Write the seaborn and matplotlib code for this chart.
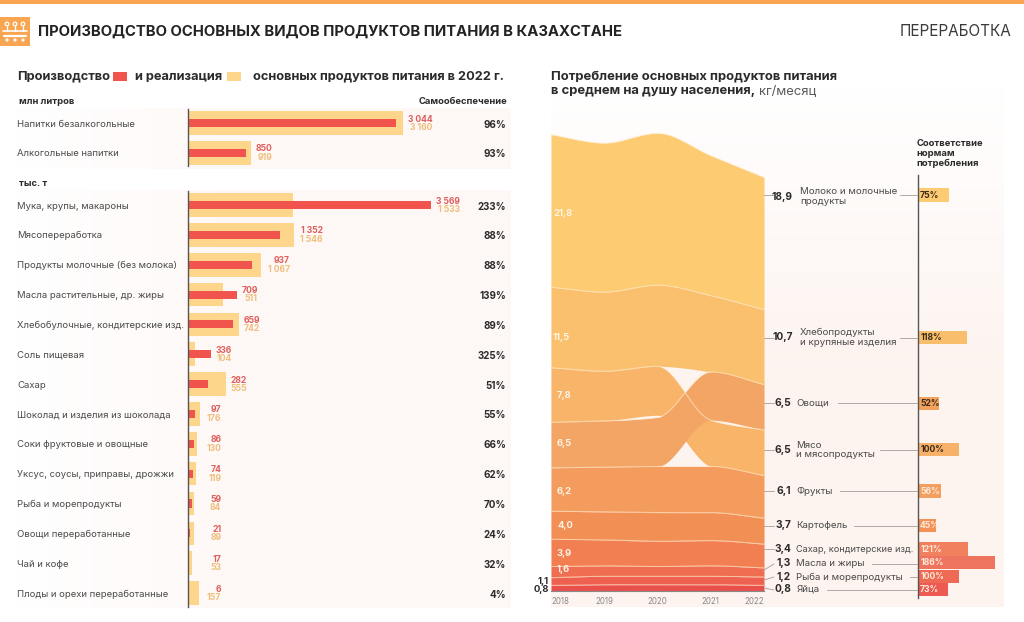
import numpy as np
import pandas as pd
import matplotlib
matplotlib.use("Agg")
import matplotlib.pyplot as plt
import matplotlib.transforms as mtransforms
from matplotlib.patches import Rectangle, Circle
import seaborn as sns

# ---------- data ----------
LITRE_CATS = ["Напитки безалкогольные", "Алкогольные напитки"]
LITRE_PROD = [3044, 850]
LITRE_REAL = [3160, 919]
LITRE_SELF = [96, 93]

TON_CATS = ["Мука, крупы, макароны", "Мясопереработка", "Продукты молочные (без молока)",
            "Масла растительные, др. жиры", "Хлебобулочные, кондитерские изд.", "Соль пищевая",
            "Сахар", "Шоколад и изделия из шоколада", "Соки фруктовые и овощные",
            "Уксус, соусы, приправы, дрожжи", "Рыба и морепродукты", "Овощи переработанные",
            "Чай и кофе", "Плоды и орехи переработанные"]
TON_PROD = [3569, 1352, 937, 709, 659, 336, 282, 97, 86, 74, 59, 21, 17, 6]
TON_REAL = [1533, 1546, 1067, 511, 742, 104, 555, 176, 130, 119, 84, 89, 53, 157]
TON_SELF = [233, 88, 88, 139, 89, 325, 51, 55, 66, 62, 70, 24, 32, 4]

YEARS = [2018, 2019, 2020, 2021, 2022]
DAIRY = [21.8, 21.3, 21.7, 20.0, 18.9]
BREAD = [11.5, 11.3, 11.6, 10.9, 10.7]
MEAT = [7.8, 7.1, 7.0, 6.6, 6.5]
VEG = [6.5, 6.6, 7.0, 6.9, 6.5]
VEG_MEAT_GAP = [0, 0, 0.3, 0, 0]
FRUIT = [6.2, 6.4, 6.6, 6.6, 6.1]
POTATO = [4.0, 4.0, 4.1, 4.0, 3.7]
SUGAR = [3.9, 3.7, 3.6, 3.6, 3.4]
OIL = [1.6, 1.5, 1.4, 1.5, 1.3]
FISH = [1.1, 1.2, 1.2, 1.2, 1.2]
EGGS = [0.8, 0.9, 0.9, 0.9, 0.8]

NORM_NAMES = ["Молоко и молочные\nпродукты", "Хлебопродукты\nи крупяные изделия", "Овощи",
              "Мясо\nи мясопродукты", "Фрукты", "Картофель", "Сахар, кондитерские изд.",
              "Масла и жиры", "Рыба и морепродукты", "Яйца"]
NORM_2022 = [18.9, 10.7, 6.5, 6.5, 6.1, 3.7, 3.4, 1.3, 1.2, 0.8]
NORM_PCT = [75, 118, 52, 100, 56, 45, 121, 186, 100, 73]

# ---------- layout & style (pixels of the 1024x622 canvas) ----------
W, H = 1024, 622
PT = 0.72
FONT = ["Inter", "DejaVu Sans"]
sns.set_theme(style="white")
plt.rcParams["font.family"] = FONT
plt.rcParams["axes.unicode_minus"] = False

C_PROD, C_REAL = "#F0544C", "#FDD68C"
C_PROD_T, C_REAL_T = "#DE5F5C", "#EFBE7C"
DARK, MID, GREY = "#2B2B2B", "#4A4A4A", "#8A8A8A"
PINK = (253 / 255, 243 / 255, 239 / 255)
BAND_COL = {"dairy": "#FCCB72", "bread": "#FAC06E", "meat": "#F8B468", "veg": "#F3A566",
            "fruit": "#F49C5E", "potato": "#F28F55", "sugar": "#F17F52", "oil": "#EF6E52",
            "fish": "#EE6050", "eggs": "#E9504C"}
NORM_COL = ["#FCCB72", "#F9BE6C", "#F3A25E", "#F7B168", "#F29F60", "#F29257", "#F1805F",
            "#EF7460", "#EE6A55", "#EC5A52"]
NORM_DARK_TXT = [True, True, True, True, False, False, False, False, False, False]
ROW_Y = [195, 337.5, 403.3, 449.7, 491, 525.7, 549, 562.7, 576.3, 589.7]
TAG_Y = [197, 337.5, 403, 450, 491, 525.5, 549, 563, 577, 589.5]
LEADER_X = [900, 900, 838, 880, 840, 854, None, 872, 910, 827]
TICK_FROM = [195, 337.5, 403, 449.5, 491, 525.5, 549, 570, 580, 588]
TICK_TO = [195, 337.5, 403, 449.5, 491, 525.5, 549, 564, 577, 590]

fig = plt.figure(figsize=(W / 100, H / 100), dpi=100, facecolor="white")


def axes_px(x0, y0, x1, y1, **kw):
    return fig.add_axes([x0 / W, 1 - y1 / H, (x1 - x0) / W, (y1 - y0) / H], **kw)


# background layer
bg = axes_px(0, 0, W, H, zorder=0)
bg.set_xlim(0, W); bg.set_ylim(H, 0); bg.axis("off")
img = np.zeros((H, W, 4))
img[..., :3] = PINK
xx, yy = np.meshgrid(np.arange(W), np.arange(H))
left_alpha = np.clip((xx - 15) / 220, 0, 1) * 0.55
left_alpha[(xx < 15) | (xx > 510)] = 0
left_alpha[~(((yy >= 108) & (yy <= 168)) | ((yy >= 190) & (yy <= 607)))] = 0
right_alpha = np.clip((yy - 85) / 300, 0, 1)
right_alpha[(xx < 551) | (xx > 1003) | (yy > 606) | (yy < 85)] = 0
img[..., 3] = np.maximum(left_alpha, right_alpha)
bg.imshow(img, extent=(0, W, H, 0), aspect="auto", interpolation="nearest")
bg.set_xlim(0, W); bg.set_ylim(H, 0)
bg.add_patch(Rectangle((0, 0), W, 4, color="#F9A552", lw=0))

# text layer
ov = axes_px(0, 0, W, H, zorder=10)
ov.set_xlim(0, W); ov.set_ylim(H, 0); ov.axis("off"); ov.patch.set_alpha(0)


def txt(x, y, s, px=10, weight="normal", color=DARK, ha="left", va="center", **kw):
    return ov.text(x, y, s, fontsize=px * PT, fontweight=weight, color=color, ha=ha, va=va, **kw)


# header + icon
ov.add_patch(Rectangle((0, 17), 30, 29, color="#F9A552", lw=0))
for cx in (7, 15, 23):
    ov.add_patch(Circle((cx, 24), 1.8, fc="none", ec="white", lw=0.9))
    ov.plot([cx, cx], [26, 31], color="white", lw=0.9)
    ov.add_patch(Circle((cx, 40), 1.6, fc="white", lw=0))
ov.plot([3, 27], [31, 31], color="white", lw=1.2)
ov.plot([4, 26], [36, 36], color="white", lw=1.6)
txt(38, 31.5, "ПРОИЗВОДСТВО ОСНОВНЫХ ВИДОВ ПРОДУКТОВ ПИТАНИЯ В КАЗАХСТАНЕ", 14.85, "bold", "#232323")
txt(1011, 31.5, "ПЕРЕРАБОТКА", 15.3, "normal", "#3A3A3A", ha="right")

# left legend-title
txt(17, 76.5, "Производство", 12.8, "bold")
ov.add_patch(Rectangle((113, 72), 14, 9, color=C_PROD, lw=0))
txt(135, 76.5, "и реализация", 12.8, "bold")
ov.add_patch(Rectangle((227, 72), 14, 9, color=C_REAL, lw=0))
txt(253, 76.5, "основных продуктов питания в 2022 г.", 12.8, "bold")
txt(19, 102, "млн литров", 9.4, "bold")
txt(507, 102, "Самообеспечение", 9.4, "bold", ha="right")
txt(19, 184, "тыс. т", 9.4, "bold")


def thousands(v):
    return f"{v:,}".replace(",", " ")


def bar_panel(y_top, cats, prod, real, share):
    row = 29.85
    n = len(cats)
    ax = axes_px(188.3, y_top, 510, y_top + n * row, zorder=2)
    ax.patch.set_alpha(0)
    df = pd.DataFrame({"cat": cats, "prod": prod, "real": real})
    sns.barplot(df, x="real", y="cat", orient="y", color=C_REAL, saturation=1, width=0.79,
                edgecolor="none", linewidth=0, ax=ax)
    sns.barplot(df, x="prod", y="cat", orient="y", color=C_PROD, saturation=1, width=0.27,
                edgecolor="none", linewidth=0, ax=ax)
    ax.set_xlim(0, (510 - 188.3) / 0.0681)
    ax.set_ylim(n - 0.5, -0.5)
    ax.set(xlabel="", ylabel="", xticks=[])
    sns.despine(ax=ax, top=True, right=True, bottom=True)
    ax.spines["left"].set_color("#555555")
    ax.spines["left"].set_linewidth(1.0)
    ax.spines["left"].set_bounds(n - 0.55, -0.47)
    ax.tick_params(axis="y", length=0, pad=(188.3 - 17) * PT, labelsize=9.5 * PT, labelcolor=MID)
    for lab in ax.get_yticklabels():
        lab.set_ha("left")
        lab.set_va("center_baseline")
    tr = mtransforms.blended_transform_factory(ov.transData, ax.transData)
    for i in range(n):
        big = max(prod[i], real[i])
        off = 29 if big >= 1000 else 21
        anchor = max(big, 176)
        for val, col, dy in ((prod[i], C_PROD_T, 4.0), (real[i], C_REAL_T, -4.4)):
            ax.annotate(thousands(val), xy=(anchor, i), xytext=(off * PT, dy * PT),
                        textcoords="offset points", ha="right", va="center",
                        fontsize=8.6 * PT, fontweight="bold", color=col, annotation_clip=False)
        ov.text(506, i + 0.05, f"{share[i]}%", transform=tr, ha="right", va="center",
                fontsize=9.8 * PT, fontweight="bold", color=DARK)
    return ax


bar_panel(108.1, LITRE_CATS, LITRE_PROD, LITRE_REAL, LITRE_SELF)
bar_panel(190.1, TON_CATS, TON_PROD, TON_REAL, TON_SELF)

# ---------- right title ----------
txt(551, 76.5, "Потребление основных продуктов питания", 13, "bold")
t = txt(551, 91, "в среднем на душу населения,", 13, "bold")
fig.canvas.draw()
bb = t.get_window_extent()
txt(bb.x1 + 3.5, 91, "кг/месяц", 13, "normal", "#5A5A5A")

# ---------- stream chart ----------
SCALE = 7.0
BASE = 591
st = axes_px(551, 120, 764, BASE, zorder=2)
st.patch.set_alpha(0)
st.set_xlim(YEARS[0], YEARS[-1])
st.set_ylim(0, (BASE - 120) / SCALE)


def smooth_edge(y):
    """Monotone cubic drawn between the yearly edge values."""
    x = np.array(YEARS, float)
    y = np.array(y, float)
    d = np.diff(y)
    m = np.zeros(len(y))
    m[0], m[-1] = d[0], d[-1]
    for k in range(1, len(y) - 1):
        if d[k - 1] * d[k] > 0:
            m[k] = 2 * d[k - 1] * d[k] / (d[k - 1] + d[k])
    xs, ys = [], []
    for k in range(len(y) - 1):
        t_ = np.linspace(0, 1, 60)
        ys.append((2 * t_**3 - 3 * t_**2 + 1) * y[k] + (t_**3 - 2 * t_**2 + t_) * m[k]
                  + (-2 * t_**3 + 3 * t_**2) * y[k + 1] + (t_**3 - t_**2) * m[k + 1])
        xs.append(x[k] + t_)
    return np.concatenate(xs), np.concatenate(ys)


series = {"eggs": EGGS, "fish": FISH, "oil": OIL, "sugar": SUGAR, "potato": POTATO,
          "fruit": FRUIT, "veg": VEG, "meat": MEAT, "bread": BREAD, "dairy": DAIRY}
order_before = ["eggs", "fish", "oil", "sugar", "potato", "fruit", "veg", "meat", "bread", "dairy"]
order_after = ["eggs", "fish", "oil", "sugar", "potato", "fruit", "meat", "veg", "bread", "dairy"]
lo = {k: [] for k in series}
hi = {k: [] for k in series}
for j, yr in enumerate(YEARS):
    cum = 0.0
    for name in (order_before if yr <= 2020 else order_after):
        lo[name].append(cum)
        cum += series[name][j]
        hi[name].append(cum)
        if name == "veg" and yr <= 2020:
            cum += VEG_MEAT_GAP[j]

for name in ["dairy", "bread", "meat", "veg", "fruit", "potato", "sugar", "oil", "fish", "eggs"]:
    xs, top = smooth_edge(hi[name])
    _, bot = smooth_edge(lo[name])
    st.fill_between(xs, bot, top, color=BAND_COL[name], lw=0)
    sns.lineplot(x=xs, y=top, color="#FFE9C8", lw=0.7, alpha=0.7, ax=st, sort=False, errorbar=None)
    st.set(xlabel="", ylabel="")

st.set_xticks(YEARS, [str(y) for y in YEARS])
st.set_yticks([])
sns.despine(ax=st, left=True, right=True, top=True)
st.spines["bottom"].set_color("#888888")
st.spines["bottom"].set_linewidth(0.8)
st.tick_params(axis="x", length=0, pad=4, labelsize=8 * PT, labelcolor=GREY)
labs = st.get_xticklabels()
labs[0].set_ha("left")
labs[-1].set_ha("right")

first_vals = [(k, series[k][0]) for k in order_before]


def comma(v):
    return f"{v:.1f}".replace(".", ",")


LABEL_Y = {"dairy": 214, "bread": 337, "meat": 395, "veg": 444, "fruit": 491, "potato": 525,
           "sugar": 553, "oil": 570}
for name, v in first_vals:
    if name in LABEL_Y:
        x = 553 if v >= 10 else 557
        txt(x, LABEL_Y[name], comma(v), 9.4, "bold", "#FFF3E2")
    else:
        txt(548.5, 581 if name == "fish" else 589, comma(v), 9.4, "bold", DARK, ha="right")

# ---------- right norm bars ----------
nb = axes_px(917.7, 175, 1004, 598, zorder=2)
nb.patch.set_alpha(0)
ndf = pd.DataFrame({"y": ROW_Y, "pct": NORM_PCT, "name": NORM_NAMES})
sns.barplot(ndf, x="pct", y="y", orient="y", native_scale=True, hue="name", palette=NORM_COL,
            dodge=False, saturation=1, width=1.0, legend=False, edgecolor="none", linewidth=0, ax=nb)
nb.set_xlim(0, (1004 - 917.7) / 0.417)
nb.set_ylim(598, 175)
nb.set(xlabel="", ylabel="", xticks=[], yticks=[])
sns.despine(ax=nb, top=True, right=True, bottom=True)
nb.spines["left"].set_color("#555555")
nb.spines["left"].set_linewidth(1.0)
for i, p in enumerate(NORM_PCT):
    nb.annotate(f"{p}%", xy=(0, ROW_Y[i]), xytext=(2.4 * PT, 0), textcoords="offset points",
                ha="left", va="center", fontsize=8.6 * PT, fontweight="bold",
                color="#3A2A1A" if NORM_DARK_TXT[i] else "#FFE9D8")

txt(916.5, 143.5, "Соответствие", 9.4, "bold")
txt(916.5, 153.5, "нормам", 9.4, "bold")
txt(916.5, 163.5, "потребления", 9.4, "bold")

for i, nm in enumerate(NORM_NAMES):
    ov.plot([764, 774], [TICK_FROM[i], TICK_TO[i]], color="#B0A8A4", lw=0.7)
    vx = 793 if i < 2 else 791
    txt(vx, TAG_Y[i], comma(NORM_2022[i]), 10.2, "bold", DARK, ha="right")
    tx = 800 if i < 2 else 796.5
    fs = 9.2 if len(nm) > 22 and "\n" not in nm else 9.7
    lines = nm.split("\n")
    if len(lines) == 2:
        txt(tx, TAG_Y[i] - 5, lines[0], fs, "normal", MID)
        txt(tx, TAG_Y[i] + 4.6, lines[1], fs, "normal", MID)
    else:
        txt(tx, TAG_Y[i], lines[0], fs, "normal", MID)
    if LEADER_X[i] is not None:
        ov.plot([LEADER_X[i], 917], [TICK_TO[i]] * 2, color="#B0A8A4", lw=0.7)

fig.savefig("out.png", dpi=100)
